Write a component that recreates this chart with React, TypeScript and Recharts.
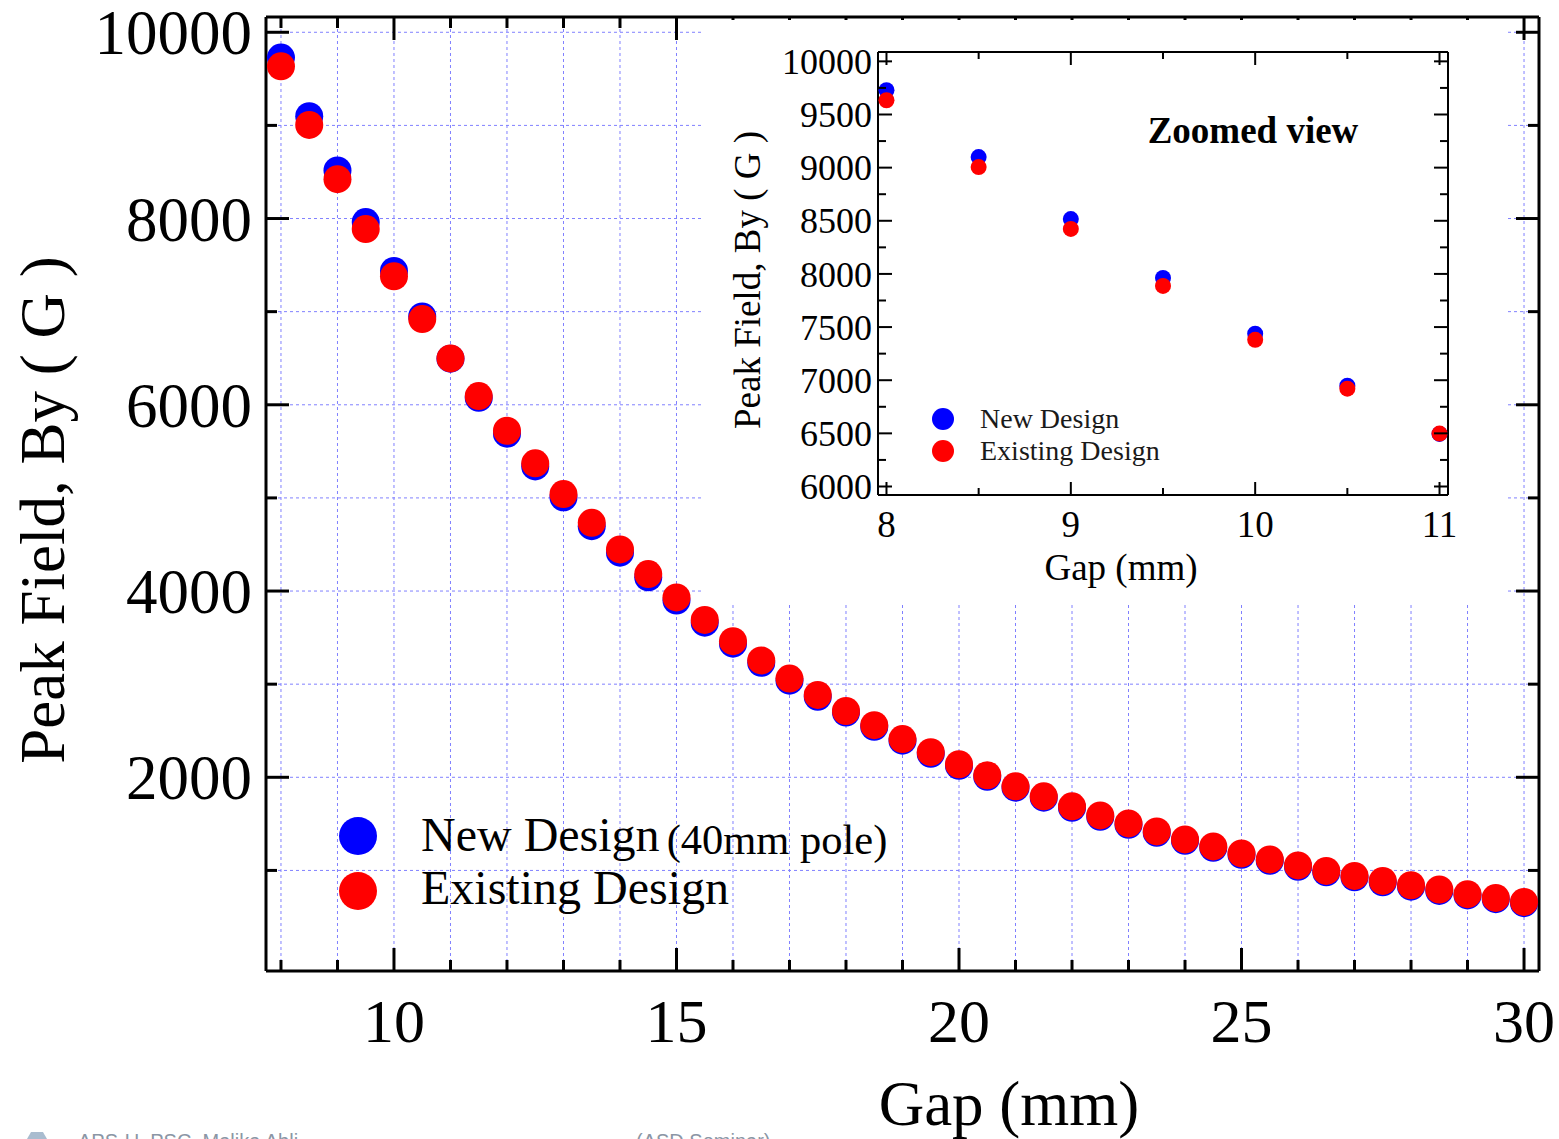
import React from 'react';
import { ScatterChart, Scatter, XAxis, YAxis, CartesianGrid, Legend } from 'recharts';

// ---------- data ----------
const gaps = [8, 8.5, 9, 9.5, 10, 10.5, 11, 11.5, 12, 12.5, 13, 13.5, 14, 14.5, 15, 15.5, 16, 16.5, 17, 17.5, 18, 18.5, 19, 19.5, 20, 20.5, 21, 21.5, 22, 22.5, 23, 23.5, 24, 24.5, 25, 25.5, 26, 26.5, 27, 27.5, 28, 28.5, 29, 29.5, 30];

const newDesign = [9728, 9099, 8516, 7962, 7437, 6948, 6495, 6075, 5690, 5338, 5006, 4697, 4412, 4148, 3898, 3660, 3435, 3230, 3038, 2865, 2695, 2543, 2393, 2253, 2124, 2006, 1888, 1781, 1673, 1576, 1490, 1404, 1318, 1243, 1168, 1103, 1039, 980, 926, 872, 826, 780, 731, 691, 648];

const existingDesign = [9634, 9005, 8423, 7887, 7380, 6920, 6498, 6094, 5721, 5371, 5041, 4733, 4447, 4182, 3931, 3690, 3462, 3255, 3060, 2885, 2712, 2560, 2410, 2270, 2140, 2022, 1903, 1796, 1688, 1591, 1505, 1419, 1333, 1258, 1183, 1118, 1054, 995, 941, 887, 841, 795, 745, 705, 662];

const mainXTicks = [8, 9, 10, 11, 12, 13, 14, 15, 16, 17, 18, 19, 20, 21, 22, 23, 24, 25, 26, 27, 28, 29, 30];
const mainYTicks = [1000, 2000, 3000, 4000, 5000, 6000, 7000, 8000, 9000, 10000];
const insetXTicks = [8, 8.5, 9, 9.5, 10, 10.5, 11];
const insetYTicks = [6000, 6250, 6500, 6750, 7000, 7250, 7500, 7750, 8000, 8250, 8500, 8750, 9000, 9250, 9500, 9750, 10000];

const seriesNames = ['New Design', 'Existing Design'];
const seriesColors = ['#0000ff', '#ff0000'];
const insetMaxGap = 11;

const newData = gaps.map((g, i) => ({ gap: g, field: newDesign[i] }));
const existingData = gaps.map((g, i) => ({ gap: g, field: existingDesign[i] }));
const newInset = newData.filter((d) => d.gap <= insetMaxGap);
const existingInset = existingData.filter((d) => d.gap <= insetMaxGap);

const FONT = "'Liberation Serif', 'Times New Roman', serif";

// ---------- tick factory ----------
type Side = 'bottom' | 'top' | 'left' | 'right';
function makeTick(o: {
  side: Side;
  isMajor: (v: number) => boolean;
  major: number;
  minor: number;
  showLabel: (v: number) => boolean;
  labelOffset: number;
  fontSize: number;
  sw: number;
}) {
  return (props: any) => {
    const { x, y, payload } = props;
    const v = payload.value;
    const len = o.isMajor(v) ? o.major : o.minor;
    let x2 = x;
    let y2 = y;
    if (o.side === 'bottom') y2 = y - len;
    if (o.side === 'top') y2 = y + len;
    if (o.side === 'left') x2 = x + len;
    if (o.side === 'right') x2 = x - len;
    let label = null;
    if (o.showLabel(v)) {
      if (o.side === 'bottom') {
        label = (
          <text x={x} y={y + o.labelOffset} textAnchor="middle" dy="0.35em" fontSize={o.fontSize} fontFamily={FONT} fill="#000">
            {v}
          </text>
        );
      } else if (o.side === 'left') {
        label = (
          <text x={x - o.labelOffset} y={y} textAnchor="end" dy="0.35em" fontSize={o.fontSize} fontFamily={FONT} fill="#000">
            {v}
          </text>
        );
      }
    }
    return (
      <g>
        <line x1={x} y1={y} x2={x2} y2={y2} stroke="#000" strokeWidth={o.sw} />
        {label}
      </g>
    );
  };
}

const never = () => false;
const mainMajorX = (v: number) => v % 5 === 0;
const mainMajorY = (v: number) => v % 2000 === 0;
const insetMajorX = (v: number) => Number.isInteger(v);
const insetMajorY = (v: number) => v % 500 === 0;

const MainBottomTick = makeTick({ side: 'bottom', isMajor: mainMajorX, major: 23, minor: 11, showLabel: mainMajorX, labelOffset: 49, fontSize: 62, sw: 3 });
const MainTopTick = makeTick({ side: 'top', isMajor: mainMajorX, major: 23, minor: 11, showLabel: never, labelOffset: 0, fontSize: 0, sw: 3 });
const MainLeftTick = makeTick({ side: 'left', isMajor: mainMajorY, major: 23, minor: 11, showLabel: mainMajorY, labelOffset: 14, fontSize: 63, sw: 3 });
const MainRightTick = makeTick({ side: 'right', isMajor: mainMajorY, major: 23, minor: 11, showLabel: never, labelOffset: 0, fontSize: 0, sw: 3 });

const InsetBottomTick = makeTick({ side: 'bottom', isMajor: insetMajorX, major: 13, minor: 7, showLabel: insetMajorX, labelOffset: 29, fontSize: 37, sw: 2 });
const InsetTopTick = makeTick({ side: 'top', isMajor: insetMajorX, major: 13, minor: 7, showLabel: never, labelOffset: 0, fontSize: 0, sw: 2 });
const InsetLeftTick = makeTick({ side: 'left', isMajor: insetMajorY, major: 14, minor: 8, showLabel: insetMajorY, labelOffset: 6, fontSize: 36, sw: 2 });
const InsetRightTick = makeTick({ side: 'right', isMajor: insetMajorY, major: 14, minor: 8, showLabel: never, labelOffset: 0, fontSize: 0, sw: 2 });

const dotShape = (r: number, color: string) => (p: any) => <circle cx={p.cx} cy={p.cy} r={r} fill={color} />;

const colorOf = (e: any, i: number) => {
  const idx = seriesNames.indexOf(e.value);
  return idx >= 0 ? seriesColors[idx] : e.color || seriesColors[i];
};

const ordered = (payload: any[]) =>
  [...payload].sort((a, b) => seriesNames.indexOf(a.value) - seriesNames.indexOf(b.value));

const MainLegend = (props: any) => {
  const payload = ordered(props.payload || []);
  return (
    <svg width={600} height={120} style={{ overflow: 'visible' }}>
      {payload.map((e: any, i: number) => (
        <g key={i}>
          <circle cx={28} cy={36 + i * 55} r={19} fill={colorOf(e, i)} />
          <text x={91} y={51 + i * 53} fontSize={48} fontFamily={FONT} fill="#000">
            {e.value}
            {i === 0 ? (
              <tspan fontSize={42.5} dx={7} dy={3}>
                (40mm pole)
              </tspan>
            ) : null}
          </text>
        </g>
      ))}
    </svg>
  );
};

const InsetLegend = (props: any) => {
  const payload = ordered(props.payload || []);
  return (
    <svg width={260} height={80} style={{ overflow: 'visible' }}>
      {payload.map((e: any, i: number) => (
        <g key={i}>
          <circle cx={25} cy={24 + i * 32} r={11} fill={colorOf(e, i)} />
          <text x={62} y={33 + i * 32} fontSize={28} fontFamily={FONT} fill="#1a1a1a">
            {e.value}
          </text>
        </g>
      ))}
    </svg>
  );
};

const MAIN_X_DOMAIN: [number, number] = [7.735, 30.265];
const MAIN_Y_DOMAIN: [number, number] = [-80, 10164];
const INSET_X_DOMAIN: [number, number] = [7.954, 11.046];
const INSET_Y_DOMAIN: [number, number] = [5920, 10088];

const axisCommon = { tickSize: 0, tickMargin: 0, tickLine: false, interval: 0 as const, allowDataOverflow: true };

export default function App() {
  return (
    <div style={{ position: 'absolute', left: 0, top: 0, width: 1559, height: 1139, background: '#fff', overflow: 'hidden' }}>
      {/* main chart */}
      <div style={{ position: 'absolute', left: 0, top: 0 }}>
        <ScatterChart width={1559} height={1139} margin={{ top: 16, right: 19, bottom: 167, left: 265 }}>
          <CartesianGrid xAxisId="b" yAxisId="l" stroke="#8080ff" strokeDasharray="3 3" strokeWidth={1} />
          <XAxis xAxisId="b" type="number" dataKey="gap" domain={MAIN_X_DOMAIN} ticks={mainXTicks} height={1} {...axisCommon} axisLine={{ stroke: '#000', strokeWidth: 3 }} tick={<MainBottomTick />} />
          <XAxis xAxisId="t" orientation="top" type="number" dataKey="gap" domain={MAIN_X_DOMAIN} ticks={mainXTicks} height={1} {...axisCommon} axisLine={{ stroke: '#000', strokeWidth: 3 }} tick={<MainTopTick />} />
          <YAxis yAxisId="l" type="number" dataKey="field" domain={MAIN_Y_DOMAIN} ticks={mainYTicks} width={1} {...axisCommon} axisLine={{ stroke: '#000', strokeWidth: 3 }} tick={<MainLeftTick />} />
          <YAxis yAxisId="r" orientation="right" type="number" dataKey="field" domain={MAIN_Y_DOMAIN} ticks={mainYTicks} width={1} {...axisCommon} axisLine={{ stroke: '#000', strokeWidth: 3 }} tick={<MainRightTick />} />
          <Legend layout="horizontal" verticalAlign="middle" align="center" content={<MainLegend />} wrapperStyle={{ position: 'absolute', left: 330, top: 800, width: 600, height: 120 }} />
          <Scatter name={seriesNames[0]} data={newData} xAxisId="b" yAxisId="l" fill={seriesColors[0]} shape={dotShape(14, seriesColors[0])} isAnimationActive={false} />
          <Scatter name={seriesNames[1]} data={existingData} xAxisId="b" yAxisId="l" fill={seriesColors[1]} shape={dotShape(14, seriesColors[1])} isAnimationActive={false} />
        </ScatterChart>
      </div>

      {/* inset chart */}
      <div style={{ position: 'absolute', left: 703, top: 20, width: 802, height: 583, background: '#fff' }}>
        <ScatterChart width={802} height={583} margin={{ top: 31, right: 56, bottom: 107, left: 174 }}>
          <XAxis xAxisId="b" type="number" dataKey="gap" domain={INSET_X_DOMAIN} ticks={insetXTicks} height={1} {...axisCommon} axisLine={{ stroke: '#000', strokeWidth: 2 }} tick={<InsetBottomTick />} />
          <XAxis xAxisId="t" orientation="top" type="number" dataKey="gap" domain={INSET_X_DOMAIN} ticks={insetXTicks} height={1} {...axisCommon} axisLine={{ stroke: '#000', strokeWidth: 2 }} tick={<InsetTopTick />} />
          <YAxis yAxisId="l" type="number" dataKey="field" domain={INSET_Y_DOMAIN} ticks={insetYTicks} width={1} {...axisCommon} axisLine={{ stroke: '#000', strokeWidth: 2 }} tick={<InsetLeftTick />} />
          <YAxis yAxisId="r" orientation="right" type="number" dataKey="field" domain={INSET_Y_DOMAIN} ticks={insetYTicks} width={1} {...axisCommon} axisLine={{ stroke: '#000', strokeWidth: 2 }} tick={<InsetRightTick />} />
          <Legend layout="horizontal" verticalAlign="middle" align="center" content={<InsetLegend />} wrapperStyle={{ position: 'absolute', left: 215, top: 375, width: 260, height: 80 }} />
          <Scatter name={seriesNames[0]} data={newInset} xAxisId="b" yAxisId="l" fill={seriesColors[0]} shape={dotShape(8, seriesColors[0])} isAnimationActive={false} />
          <Scatter name={seriesNames[1]} data={existingInset} xAxisId="b" yAxisId="l" fill={seriesColors[1]} shape={dotShape(8, seriesColors[1])} isAnimationActive={false} />
        </ScatterChart>
      </div>

      {/* titles and footer */}
      <svg width={1559} height={1139} style={{ position: 'absolute', left: 0, top: 0, pointerEvents: 'none' }}>
        <text x={1009} y={1125} textAnchor="middle" fontSize={63} fontFamily={FONT} fill="#000">
          Gap (mm)
        </text>
        <text transform="translate(64,510) rotate(-90)" textAnchor="middle" fontSize={63} fontFamily={FONT} fill="#000">
          Peak Field, By ( G )
        </text>
        <text x={1253} y={143} textAnchor="middle" fontSize={37} fontWeight="bold" fontFamily={FONT} fill="#000">
          Zoomed view
        </text>
        <text x={1121} y={580} textAnchor="middle" fontSize={37} fontFamily={FONT} fill="#000">
          Gap (mm)
        </text>
        <text transform="translate(760,280) rotate(-90)" textAnchor="middle" fontSize={37} fontFamily={FONT} fill="#000">
          Peak Field, By ( G )
        </text>
        <polygon points="27,1139 31,1132 43,1132 47,1139" fill="#a9bccf" />
        <text x={78} y={1148} fontSize={20} fontFamily="'Liberation Sans', Arial, sans-serif" fill="#8b96a5">
          APS-U, PSC, Malika Abli
        </text>
        <text x={636} y={1148} fontSize={20} fontFamily="'Liberation Sans', Arial, sans-serif" fill="#8b96a5">
          (ASD Seminar)
        </text>
      </svg>
    </div>
  );
}
